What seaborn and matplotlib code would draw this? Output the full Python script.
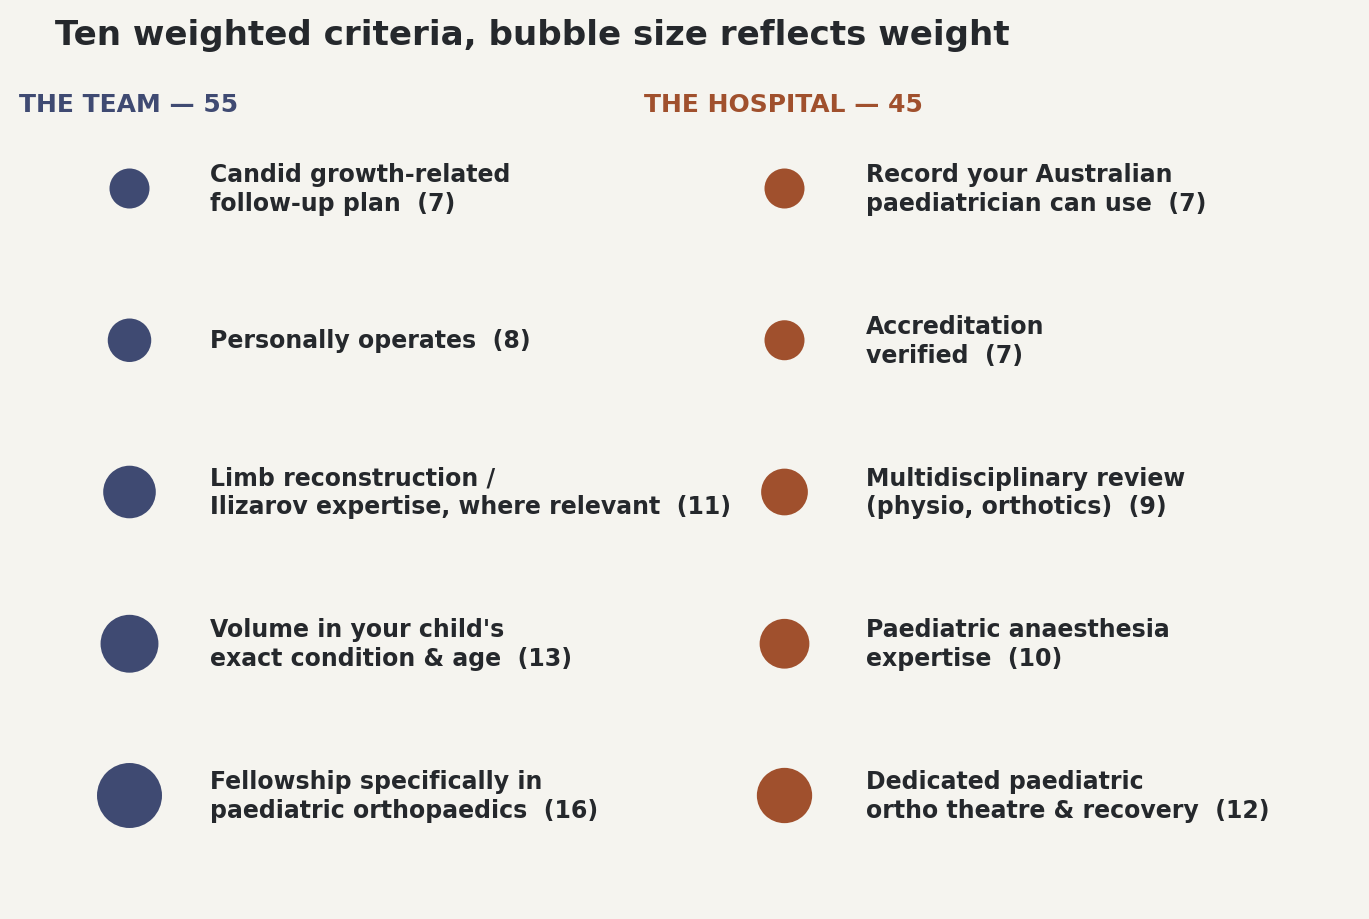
import matplotlib
matplotlib.use("Agg")
import matplotlib.pyplot as plt
import seaborn as sns
import pandas as pd

# ---- data ----
team_labels = [
    "Candid growth-related\nfollow-up plan",
    "Personally operates",
    "Limb reconstruction /\nIlizarov expertise, where relevant",
    "Volume in your child's\nexact condition & age",
    "Fellowship specifically in\npaediatric orthopaedics",
]
team_weights = [7, 8, 11, 13, 16]
hospital_labels = [
    "Record your Australian\npaediatrician can use",
    "Accreditation\nverified",
    "Multidisciplinary review\n(physio, orthotics)",
    "Paediatric anaesthesia\nexpertise",
    "Dedicated paediatric\northo theatre & recovery",
]
hospital_weights = [7, 7, 9, 10, 12]
groups = ["THE TEAM", "THE HOSPITAL"]
group_totals = [55, 45]
title = "Ten weighted criteria, bubble size reflects weight"

# ---- styling ----
BG = "#F5F4EF"
TXT = "#25282C"
colors = {"THE TEAM": "#3F4A72", "THE HOSPITAL": "#A0502D"}

sns.set_theme(style="white")
plt.rcParams["font.family"] = ["DejaVu Sans"]

rows = []
for col, (labels, weights) in enumerate([(team_labels, team_weights),
                                          (hospital_labels, hospital_weights)]):
    for r, (lab, w) in enumerate(zip(labels, weights)):
        rows.append({"group": groups[col], "col": col, "row": r, "label": lab, "weight": w})
df = pd.DataFrame(rows)

W, H = 1369, 920
fig = plt.figure(figsize=(W / 100, H / 100), dpi=100, facecolor=BG)
ax = fig.add_axes([0, 0, 1, 1])
ax.set_facecolor(BG)

sns.scatterplot(data=df, x="col", y="row", hue="group", palette=colors,
                size="weight", sizes=(830, 2190), size_norm=(7, 16),
                edgecolor="none", linewidth=0, legend=False, ax=ax)

# axis range so column 0 sits at x=129px, column 1 at x=784px; rows ~189px + 151.75px steps
xu = 655.0
yu = 151.75
y0 = 189.5
ax.set_xlim(-129.5 / xu, (W - 129.5) / xu)
ax.set_ylim((H - y0) / yu, -y0 / yu)
ax.axis("off")

for _, rr in df.iterrows():
    ax.text(rr["col"] + 81 / xu, rr["row"], f"{rr['label']}  ({rr['weight']})",
            ha="left", va="center", fontsize=17, fontweight="bold", color=TXT,
            linespacing=1.24)

fig.text(55 / W, 1 - 35 / H, title, ha="left", va="center",
         fontsize=24.6, fontweight="bold", color=TXT)
for g, tot, xp in zip(groups, group_totals, [19, 644]):
    fig.text(xp / W, 1 - 105 / H, f"{g} — {tot}", ha="left", va="center",
             fontsize=18, fontweight="bold", color=colors[g])

fig.savefig("out.png", dpi=100, facecolor=BG)
